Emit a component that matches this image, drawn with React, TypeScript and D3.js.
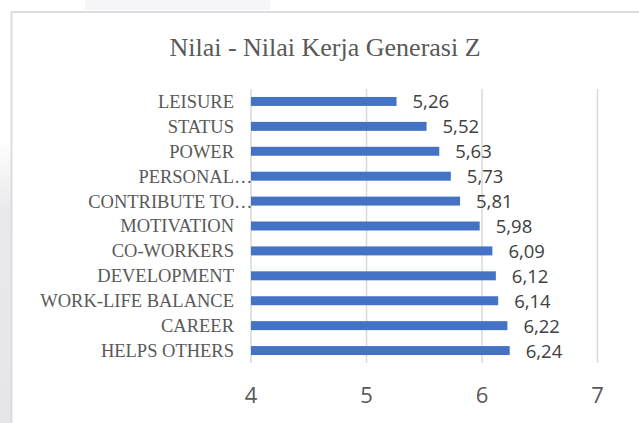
import React from 'react'
import * as d3 from 'd3'

const categories = [
  'LEISURE',
  'STATUS',
  'POWER',
  'PERSONAL',
  'CONTRIBUTE TO',
  'MOTIVATION',
  'CO-WORKERS',
  'DEVELOPMENT',
  'WORK-LIFE BALANCE',
  'CAREER',
  'HELPS OTHERS',
]
const truncated = ['PERSONAL', 'CONTRIBUTE TO']
const values = [5.26, 5.52, 5.63, 5.73, 5.81, 5.98, 6.09, 6.12, 6.14, 6.22, 6.24]
const ticks = [4, 5, 6, 7]
const title = 'Nilai - Nilai Kerja Generasi Z'

const W = 639
const H = 423
const textColor = '#595959'
const serif = '"Liberation Serif", "Times New Roman", serif'
const sans = '"Open Sans", sans-serif'

export default function App() {
  // plot area, matched to the picture
  const x = d3.scaleLinear().domain([4, 7]).range([251, 597.5])
  const y = d3.scaleBand<string>()
    .domain(categories)
    .range([89, 363])
    .paddingInner(0.64)
    .paddingOuter(0.32)

  const fmt = (v: number) => d3.format('.2f')(v).replace('.', ',')

  return (
    <div style={{ position: 'fixed', left: 0, top: 0 }}>
      <svg width={W} height={H} style={{ display: 'block' }}>
        <defs>
          <linearGradient id="sideShade" x1="0" y1="0" x2="0" y2="1">
            <stop offset="0" stopColor="#ffffff" />
            <stop offset="0.25" stopColor="#e9e9ec" />
            <stop offset="1" stopColor="#e6e6ea" />
          </linearGradient>
        </defs>
        <rect width={W} height={H} fill="#ffffff" />
        {/* page shading outside the chart box */}
        <rect x={0} y={140} width={12} height={H - 140} fill="url(#sideShade)" />
        <rect x={85} y={0} width={185} height={10} fill="#f6f6f8" />
        <rect x={11.5} y={12} width={800} height={600} fill="#ffffff" stroke="#dadada" strokeWidth={1.8} />

        <text x={325} y={56} textAnchor="middle" fontFamily={serif} fontSize={26} fill={textColor}>
          {title}
        </text>

        {ticks.map(t => (
          <line key={'g' + t} x1={x(t)} x2={x(t)} y1={89} y2={363} stroke="#d9d9d9" strokeWidth={1.5} />
        ))}

        {categories.map((c, i) => {
          const cy = (y(c) as number) + y.bandwidth() / 2
          return (
            <g key={c}>
              <rect x={x(4)} y={y(c)} width={x(values[i]) - x(4)} height={y.bandwidth()} fill="#4472C4" />
              <text x={234} y={cy} dy="0.35em" textAnchor="end" fontFamily={serif} fontSize={18.5} fill={textColor}>
                {c}
              </text>
              {truncated.includes(c) && (
                <text x={234} y={cy} dy="0.35em" textAnchor="start" fontFamily={serif} fontSize={18.5} fill={textColor}>
                  …
                </text>
              )}
              <text x={x(values[i]) + 16} y={cy} dy="0.38em" fontFamily={sans} fontSize={18.5} fill="#404040">
                {fmt(values[i])}
              </text>
            </g>
          )
        })}

        {ticks.map(t => (
          <text key={'t' + t} x={x(t)} y={403} textAnchor="middle" fontFamily={sans} fontSize={22} fill={textColor}>
            {t}
          </text>
        ))}
      </svg>
    </div>
  )
}
